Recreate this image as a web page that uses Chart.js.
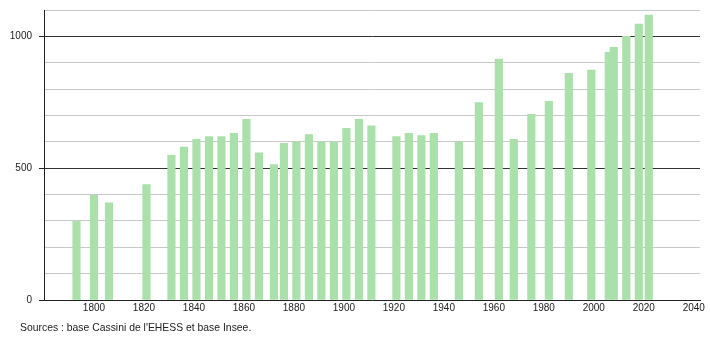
<!DOCTYPE html>
<html>
<head>
<meta charset="utf-8">
<script src="https://cdn.jsdelivr.net/npm/chart.js@4/dist/chart.umd.min.js"></script>
<style>
  html, body { margin: 0; padding: 0; background: #fff; }
  #wrap { position: relative; width: 710px; height: 340px; }
  canvas { display: block; }
  #source { position: absolute; left: 20px; top: 322px; font-family: "Liberation Sans", Arial, sans-serif; font-size: 10.4px; color: #222; white-space: nowrap; }
</style>
</head>
<body>
<div id="wrap">
  <canvas id="c" width="710" height="340"></canvas>
  <div id="source">Sources : base Cassini de l'EHESS et base Insee.</div>
</div>
<script>
const years = [1793, 1800, 1806, 1821, 1831, 1836, 1841, 1846, 1851, 1856, 1861, 1866, 1872, 1876, 1881, 1886, 1891, 1896, 1901, 1906, 1911, 1921, 1926, 1931, 1936, 1946, 1954, 1962, 1968, 1975, 1982, 1990, 1999, 2006, 2008, 2013, 2018, 2022];
const population = [298, 397, 369, 438, 549, 580, 609, 620, 620, 632, 685, 558, 514, 594, 599, 627, 599, 599, 651, 685, 661, 620, 632, 624, 632, 599, 749, 914, 609, 704, 754, 860, 872, 939, 958, 1000, 1047, 1081];
const xTicks = [1800, 1820, 1840, 1860, 1880, 1900, 1920, 1940, 1960, 1980, 2000, 2020, 2040];
const yLabels = [0, 500, 1000];

const font = { family: "'Liberation Sans', Arial, sans-serif", size: 10 };

new Chart(document.getElementById('c'), {
  type: 'bar',
  data: {
    datasets: [{
      data: years.map((y, i) => ({ x: y, y: population[i] })),
      backgroundColor: 'rgb(170,224,170)',
      borderWidth: 0,
      barThickness: 7.5
    }]
  },
  options: {
    responsive: false,
    animation: false,
    layout: { padding: { left: 0, right: 10, top: 10, bottom: 0 } },
    plugins: { legend: { display: false }, tooltip: { enabled: false } },
    scales: {
      x: {
        type: 'linear',
        min: 1780,
        max: 2042.5,
        offset: false,
        afterBuildTicks: s => { s.ticks = xTicks.map(v => ({ value: v })); },
        afterFit: s => { s.height = 40; s.paddingLeft = 0; s.paddingRight = 0; },
        grid: { display: false, drawTicks: false, tickLength: 0 },
        border: { display: true, color: '#222', width: 1 },
        ticks: { font: font, color: '#222', padding: 2, maxRotation: 0, autoSkip: false, callback: v => String(v) }
      },
      y: {
        min: 0,
        max: 1100,
        afterFit: s => { s.width = 44; s.paddingTop = 0; s.paddingBottom = 0; },
        ticks: {
          stepSize: 100,
          font: font,
          color: '#222',
          padding: 7,
          callback: v => yLabels.includes(v) ? String(v) : ''
        },
        grid: {
          color: ctx => (ctx.tick && (ctx.tick.value === 500 || ctx.tick.value === 1000)) ? '#333' : '#c8c8c8',
          tickColor: ctx => (ctx.tick && yLabels.includes(ctx.tick.value)) ? '#222' : 'rgba(0,0,0,0)',
          tickLength: 5,
          lineWidth: 1
        },
        border: { display: true, color: '#222', width: 1 }
      }
    }
  }
});
</script>
</body>
</html>
